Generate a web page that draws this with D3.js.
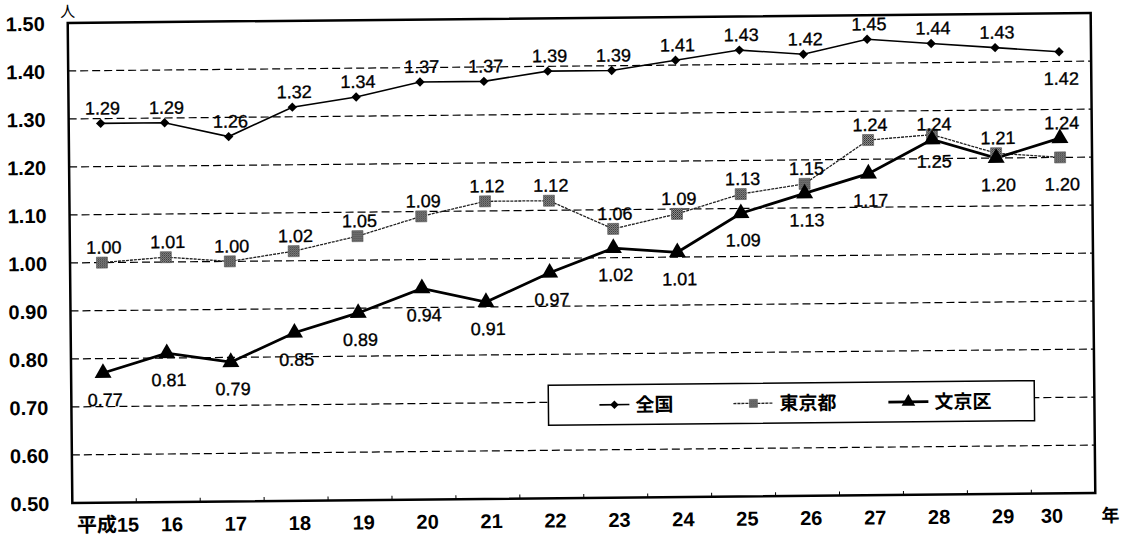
<!DOCTYPE html>
<meta charset="utf-8">
<head>
	<style>
		body { margin: 0; background: #fff; }
		.num { font-family: "Liberation Sans", Arial, sans-serif; }
		.jp { font-family: "Noto Sans CJK JP", sans-serif; font-weight: bold; }
	</style>
	<script src="https://cdn.jsdelivr.net/npm/d3@7"></script>
</head>
<body>
<script>

	// 年度（平成）
	var years = ["平成15", "16", "17", "18", "19", "20", "21", "22", "23", "24", "25", "26", "27", "28", "29", "30"];

	// 合計特殊出生率（人）
	var zenkoku = [1.29, 1.29, 1.26, 1.32, 1.34, 1.37, 1.37, 1.39, 1.39, 1.41, 1.43, 1.42, 1.45, 1.44, 1.43, 1.42];
	var tokyo   = [1.00, 1.01, 1.00, 1.02, 1.05, 1.09, 1.12, 1.12, 1.06, 1.09, 1.13, 1.15, 1.24, 1.25, 1.21, 1.20];
	var bunkyo  = [0.77, 0.81, 0.79, 0.85, 0.89, 0.94, 0.91, 0.97, 1.02, 1.01, 1.09, 1.13, 1.17, 1.24, 1.20, 1.24];

	var yTicks = [0.50, 0.60, 0.70, 0.80, 0.90, 1.00, 1.10, 1.20, 1.30, 1.40, 1.50];

	// which labels sit on the other side of the point
	var zenkokuBelow = [15],
		tokyoBelow = [13, 15],
		bunkyoAbove = [13, 15];

	var width = 1122, height = 538,
		pLeft = 70, pRight = 1093, pTop = 18, pBottom = 498;

	var svg = d3.select("body").append("svg")
		.attr("width", width)
		.attr("height", height);

	svg.append("rect").attr("width", width).attr("height", height).attr("fill", "#fff");

	// dithered grey like the scanned squares
	var pat = svg.append("defs").append("pattern")
		.attr("id", "dither")
		.attr("width", 2).attr("height", 2)
		.attr("patternUnits", "userSpaceOnUse");
	pat.append("rect").attr("width", 2).attr("height", 2).attr("fill", "#9a9a9a");
	pat.append("rect").attr("width", 1).attr("height", 1).attr("fill", "#222");
	pat.append("rect").attr("x", 1).attr("y", 1).attr("width", 1).attr("height", 1).attr("fill", "#444");

	// the scan is slightly tilted
	var g = svg.append("g")
		.attr("transform", "rotate(-0.55 582 258)");

	var x = d3.scalePoint()
		.domain(years)
		.range([pLeft, pRight])
		.padding(0.5);

	var y = d3.scaleLinear()
		.domain([0.5, 1.5])
		.range([pBottom, pTop]);

	// grid lines
	g.append("g").selectAll("line")
		.data(yTicks.slice(1, -1))
	  .enter().append("line")
		.attr("x1", pLeft).attr("x2", pRight)
		.attr("y1", function(d) { return y(d) })
		.attr("y2", function(d) { return y(d) })
		.attr("stroke", "#000")
		.attr("stroke-width", 1.2)
		.attr("stroke-dasharray", "8,4");

	// y axis labels
	var yAxis = g.append("g")
		.attr("transform", "translate(" + pLeft + ",0)")
		.call(d3.axisLeft(y).tickValues(yTicks).tickFormat(d3.format(".2f")).tickSize(0).tickPadding(23));
	yAxis.select(".domain").remove();
	yAxis.selectAll("text")
		.attr("dy", "0.36em")
		.style("font-size", "20px")
		.style("font-weight", "bold")
		.style("font-family", "Liberation Sans, Arial, sans-serif")
		.attr("fill", "#000");

	// x axis labels
	var xAxis = g.append("g")
		.attr("transform", "translate(0," + pBottom + ")")
		.call(d3.axisBottom(x).tickSize(0).tickPadding(15));
	xAxis.select(".domain").remove();
	xAxis.selectAll("text")
		.style("font-size", "20px")
		.style("font-weight", "bold")
		.style("font-family", "Liberation Sans, 'Noto Sans CJK JP', sans-serif")
		.attr("fill", "#000")
		.attr("dx", function(d, i) { return i == years.length - 1 ? -12 : 3 });

	g.append("text")
		.attr("class", "jp")
		.attr("x", 1108).attr("y", pBottom + 29)
		.attr("text-anchor", "middle")
		.style("font-size", "18px")
		.text("年");

	g.append("text")
		.attr("class", "jp")
		.attr("x", pLeft).attr("y", pTop - 6)
		.attr("text-anchor", "middle")
		.style("font-size", "15px")
		.style("font-weight", "normal")
		.text("人");

	// small ticks between categories on the bottom edge
	g.append("g").selectAll("line")
		.data(years.slice(1))
	  .enter().append("line")
		.attr("x1", function(d) { return x(d) - x.step() / 2 })
		.attr("x2", function(d) { return x(d) - x.step() / 2 })
		.attr("y1", pBottom).attr("y2", pBottom - 4)
		.attr("stroke", "#000")
		.attr("stroke-width", 1);

	// frame
	g.append("rect")
		.attr("x", pLeft).attr("y", pTop)
		.attr("width", pRight - pLeft).attr("height", pBottom - pTop)
		.attr("fill", "none")
		.attr("stroke", "#000")
		.attr("stroke-width", 2.5);

	var line = d3.line()
		.x(function(d, i) { return x(years[i]) })
		.y(function(d) { return y(d) });

	var diamond = d3.symbol().type(d3.symbolSquare).size(44),
		square = d3.symbol().type(d3.symbolSquare).size(121),
		triangle = d3.symbol().type(d3.symbolTriangle).size(125);

	var series = [
		{ name: "全国", values: zenkoku, width: 1.6, dash: null, color: "#000", rot: 45,
			marker: function(sel) { sel.attr("d", diamond).attr("fill", "#000") },
			above: function(i) { return zenkokuBelow.indexOf(i) < 0 } },
		{ name: "東京都", values: tokyo, width: 1.3, dash: "3,1", color: "#222", rot: 0,
			marker: function(sel) { sel.attr("d", square).attr("fill", "url(#dither)").attr("stroke", "#555").attr("stroke-width", 0.6) },
			above: function(i) { return tokyoBelow.indexOf(i) < 0 } },
		{ name: "文京区", values: bunkyo, width: 2.8, dash: null, color: "#000", rot: 0,
			marker: function(sel) { sel.attr("d", triangle).attr("fill", "#000") },
			above: function(i) { return bunkyoAbove.indexOf(i) >= 0 } }
	];

	series.forEach(function(s) {
		g.append("path")
			.datum(s.values)
			.attr("d", line)
			.attr("fill", "none")
			.attr("stroke", s.color)
			.attr("stroke-width", s.width)
			.attr("stroke-dasharray", s.dash);
	});

	series.forEach(function(s) {
		g.append("g").selectAll("path")
			.data(s.values)
		  .enter().append("path")
			.call(s.marker)
			.attr("transform", function(d, i) {
				return "translate(" + x(years[i]) + "," + y(d) + ")rotate(" + s.rot + ")";
			});
	});

	series.forEach(function(s) {
		g.append("g").selectAll("text")
			.data(s.values)
		  .enter().append("text")
			.attr("class", "num")
			.attr("x", function(d, i) { return x(years[i]) + 2 })
			.attr("y", function(d, i) { return s.above(i) ? y(d) - 9 : y(d) + 33 })
			.attr("text-anchor", "middle")
			.attr("stroke", "#000")
			.attr("stroke-width", 0.35)
			.style("font-size", "18px")
			.text(function(d) { return d3.format(".2f")(d) });
	});

	// legend
	var legend = g.append("g");
	legend.append("rect")
		.attr("x", 547).attr("y", 385)
		.attr("width", 486).attr("height", 40)
		.attr("fill", "#fff")
		.attr("stroke", "#000")
		.attr("stroke-width", 1.5);

	var legendX = [598, 732, 887],
		legendLen = [30, 40, 40];

	var legendSym = [
		d3.symbol().type(d3.symbolSquare).size(36),
		d3.symbol().type(d3.symbolSquare).size(64),
		d3.symbol().type(d3.symbolTriangle).size(80)
	];

	series.forEach(function(s, i) {
		var lg = legend.append("g");
		lg.append("line")
			.attr("x1", legendX[i]).attr("x2", legendX[i] + legendLen[i])
			.attr("y1", 405).attr("y2", 405)
			.attr("stroke", s.color)
			.attr("stroke-width", s.width)
			.attr("stroke-dasharray", s.dash);
		lg.append("path")
			.call(s.marker)
			.attr("d", legendSym[i])
			.attr("transform", "translate(" + (legendX[i] + legendLen[i] / 2) + ",405)rotate(" + s.rot + ")");
		lg.append("text")
			.attr("class", "jp")
			.attr("x", legendX[i] + legendLen[i] + 6)
			.attr("y", 412)
			.style("font-size", "19px")
			.text(s.name);
	});

</script>
</body>
